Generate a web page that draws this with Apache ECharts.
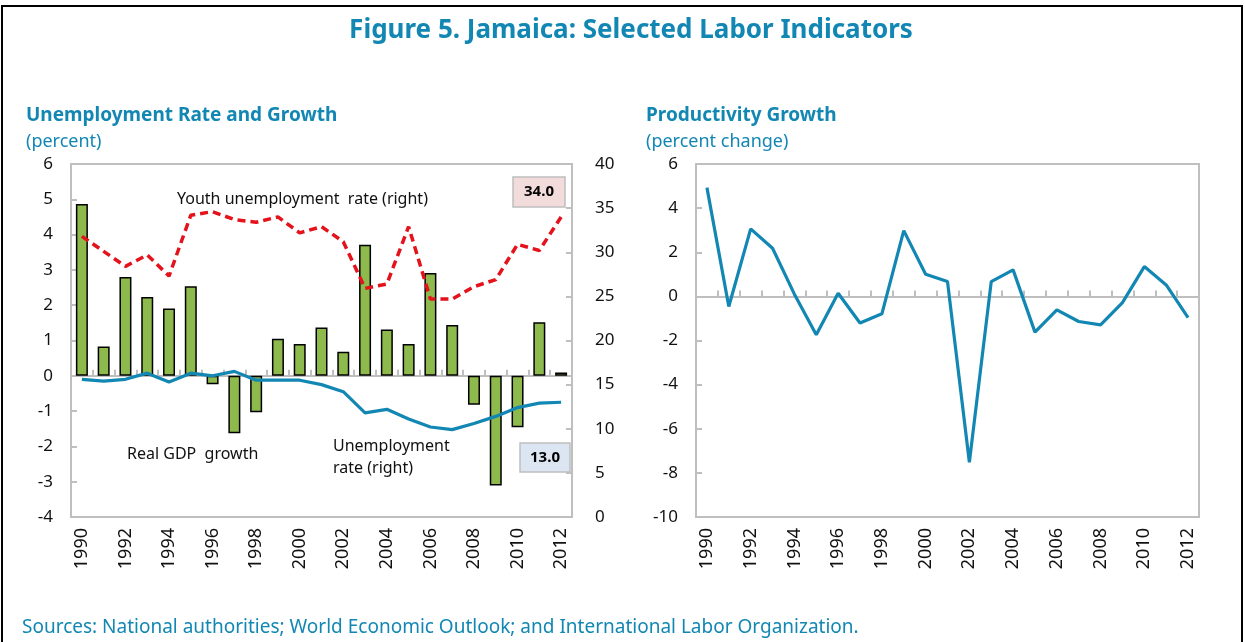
<!DOCTYPE html>
<html><head><meta charset="utf-8">
<script src="https://cdn.jsdelivr.net/npm/echarts@6/dist/echarts.min.js"></script>
<style>html,body{margin:0;padding:0;background:#fff}#c{width:1245px;height:642px}</style>
</head><body><div id="c"></div>
<script>
const years = ['1990','1991','1992','1993','1994','1995','1996','1997','1998','1999','2000','2001','2002','2003','2004','2005','2006','2007','2008','2009','2010','2011','2012'];
const gdpGrowth = [4.87,0.83,2.80,2.23,1.91,2.54,-0.24,-1.63,-1.03,1.05,0.90,1.37,0.68,3.71,1.31,0.90,2.91,1.44,-0.82,-3.11,-1.46,1.52,0.09];
const youthUnemp = [31.8,30.1,28.4,29.7,27.3,34.2,34.6,33.7,33.4,34.0,32.2,32.9,31.2,25.9,26.4,32.9,24.7,24.7,26.1,26.9,30.9,30.2,34.0];
const unempRate = [15.6,15.4,15.6,16.3,15.3,16.3,16.0,16.5,15.5,15.5,15.5,15.0,14.2,11.8,12.2,11.1,10.2,9.9,10.6,11.4,12.4,12.9,13.0];
const productivity = [4.93,-0.46,3.06,2.18,0.1,-1.74,0.14,-1.21,-0.79,2.98,1.0,0.67,-7.52,0.67,1.2,-1.62,-0.61,-1.14,-1.29,-0.28,1.35,0.52,-0.96];
const leftAxis = {min:-4, max:6, interval:1};
const rightAxis = {min:0, max:40, interval:5};
const prodAxis = {min:-10, max:6, interval:2};

const TEAL = '#1287b3';
const GRAY = '#bfbfbf';
const FONT = 'Noto Sans';
const TXT = '#111';

const chart = echarts.init(document.getElementById('c'), null, {renderer:'canvas'});

function zeroAxis(gridIndex){
  return {type:'category', gridIndex, data:years, boundaryGap:true,
    axisLine:{show:true, onZero:true, onZeroAxisIndex: gridIndex===0?0:2, lineStyle:{color:GRAY,width:2}},
    axisTick:{show:true, inside:true, length:6, interval:0, alignWithLabel:false, lineStyle:{color:GRAY,width:2}},
    axisLabel:{show:false}, splitLine:{show:false}};
}
function labelAxis(gridIndex){
  return {type:'category', gridIndex, data:years, position:'bottom', boundaryGap:true,
    axisLine:{show:false, onZero:false}, axisTick:{show:false},
    axisLabel:{show:true, interval:1, rotate:90, margin:11, fontFamily:FONT, fontSize:18, color:TXT},
    splitLine:{show:false}};
}
function valAxis(gridIndex, cfg, pos){
  return {type:'value', gridIndex, position:pos, min:cfg.min, max:cfg.max, interval:cfg.interval,
    axisLine:{show:true, onZero:false, lineStyle:{color:GRAY,width:2}},
    axisTick:{show:true, inside:true, length:6, lineStyle:{color:GRAY,width:2}},
    axisLabel:{fontFamily:FONT, fontSize:17, color:TXT, margin: pos==='right'?23:18},
    splitLine:{show:false}};
}

const lastYouth = youthUnemp[youthUnemp.length-1].toFixed(1);
const lastUnemp = unempRate[unempRate.length-1].toFixed(1);

const option = {
  animation:false,
  backgroundColor:'#fff',
  grid:[
    {left:71, top:164, width:501, height:353, show:true, borderColor:GRAY, borderWidth:2, backgroundColor:'transparent'},
    {left:696, top:164, width:503, height:353, show:true, borderColor:GRAY, borderWidth:2, backgroundColor:'transparent'}
  ],
  xAxis:[zeroAxis(0), labelAxis(0), zeroAxis(1), labelAxis(1)],
  yAxis:[valAxis(0,leftAxis,'left'), valAxis(0,rightAxis,'right'), valAxis(1,prodAxis,'left')],
  series:[
    {type:'bar', name:'Real GDP growth', xAxisIndex:0, yAxisIndex:0, data:gdpGrowth, barWidth:12,
      itemStyle:{color:'#8db94d', borderColor:'#000', borderWidth:1.5}},
    {type:'line', name:'Youth unemployment rate (right)', xAxisIndex:0, yAxisIndex:1, data:youthUnemp,
      symbol:'none', lineStyle:{color:'#e3121b', width:3.5, type:[8,5]}, z:5},
    {type:'line', name:'Unemployment rate (right)', xAxisIndex:0, yAxisIndex:1, data:unempRate,
      symbol:'none', lineStyle:{color:TEAL, width:3.2}, z:6},
    {type:'line', name:'Productivity growth', xAxisIndex:2, yAxisIndex:2, data:productivity,
      symbol:'none', lineStyle:{color:TEAL, width:3.2}, z:6}
  ],
  graphic:[
    {type:'rect', shape:{x:2,y:6,width:1240,height:700}, style:{fill:'none', stroke:'#000', lineWidth:2}, silent:true},
    {type:'text', x:631, y:31, style:{text:'Figure 5. Jamaica: Selected Labor Indicators', font:'bold 26px "Noto Sans"', fill:TEAL, align:'center', verticalAlign:'middle'}},
    {type:'text', x:26, y:116, style:{text:'Unemployment Rate and Growth', font:'bold 19px "Noto Sans"', fill:TEAL, verticalAlign:'middle'}},
    {type:'text', x:26, y:142, style:{text:'(percent)', font:'18px "Noto Sans"', fill:TEAL, verticalAlign:'middle'}},
    {type:'text', x:646, y:116, style:{text:'Productivity Growth', font:'bold 19px "Noto Sans"', fill:TEAL, verticalAlign:'middle'}},
    {type:'text', x:646, y:142, style:{text:'(percent change)', font:'18px "Noto Sans"', fill:TEAL, verticalAlign:'middle'}},
    {type:'text', x:177, y:199, style:{text:'Youth unemployment  rate (right)', font:'16px "Noto Sans"', fill:TXT, verticalAlign:'middle'}},
    {type:'text', x:127, y:454, style:{text:'Real GDP  growth', font:'16px "Noto Sans"', fill:TXT, verticalAlign:'middle'}},
    {type:'text', x:333, y:446, style:{text:'Unemployment', font:'16px "Noto Sans"', fill:TXT, verticalAlign:'middle'}},
    {type:'text', x:333, y:468, style:{text:'rate (right)', font:'16px "Noto Sans"', fill:TXT, verticalAlign:'middle'}},
    {type:'rect', shape:{x:513,y:177,width:52,height:30}, style:{fill:'#f2dcdb', stroke:GRAY, lineWidth:1.5}},
    {type:'text', x:539, y:192, style:{text:lastYouth, font:'bold 15px "Noto Sans"', fill:'#000', align:'center', verticalAlign:'middle'}},
    {type:'rect', shape:{x:520,y:443,width:50,height:29}, style:{fill:'#dce6f2', stroke:GRAY, lineWidth:1.5}},
    {type:'text', x:545, y:458, style:{text:lastUnemp, font:'bold 15px "Noto Sans"', fill:'#000', align:'center', verticalAlign:'middle'}},
    {type:'text', x:22, y:628, style:{text:'Sources: National authorities; World Economic Outlook; and International Labor Organization.', font:'19px "Noto Sans"', fill:TEAL, verticalAlign:'middle'}}
  ]
};
chart.setOption(option);
</script></body></html>
